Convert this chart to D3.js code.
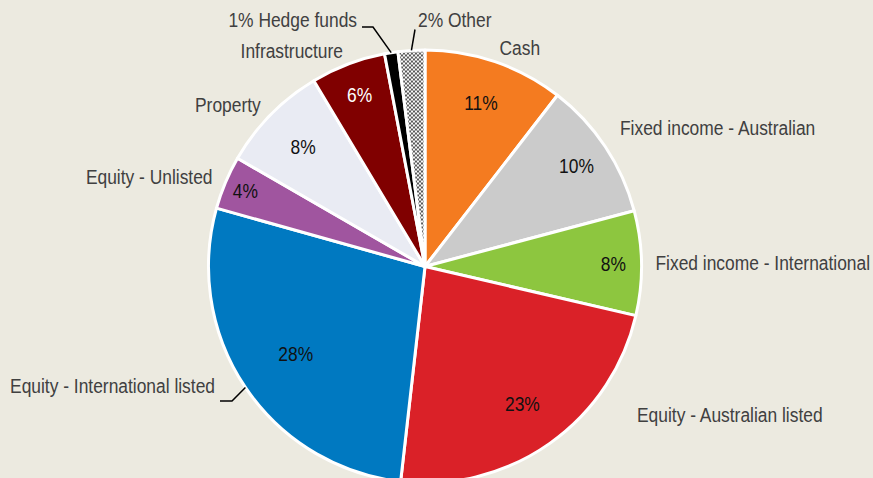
<!DOCTYPE html>
<html>
<head>
<meta charset="utf-8">
<script src="https://cdn.jsdelivr.net/npm/d3@7"></script>
<style>
  html, body { margin: 0; padding: 0; background: #ECEAE0; }
  svg { display: block; }
</style>
</head>
<body>
<script>
//Width and height
var w = 873;
var h = 478;

// asset allocation, % of portfolio (clockwise from 12 o'clock)
var categories = ["Cash", "Fixed income - Australian", "Fixed income - International",
    "Equity - Australian listed", "Equity - International listed", "Equity - Unlisted",
    "Property", "Infrastructure", "Hedge funds", "Other"];
var shares = [10.5, 10.4, 7.8, 23.2, 27.6, 4.0, 8.1, 5.6, 1.0, 2.0];
var colors = ["#F47B20", "#CBCBCB", "#8DC63F", "#DA2128", "#0079C1", "#A0559F",
    "#E9EBF3", "#800000", "#000000", "url(#dots)"];

var cx = 425, cy = 266.5, r = 216.5;
var squeeze = 0.87;   // fake a narrow font

// how far out the % sits, as a share of the radius
var pctRadius = { "Cash": 0.8, "Fixed income - Australian": 0.84, "Fixed income - International": 0.87,
    "Equity - Australian listed": 0.78, "Equity - International listed": 0.72, "Equity - Unlisted": 0.9,
    "Property": 0.79, "Infrastructure": 0.85 };

// labels that don't just sit radially outside the slice
var special = {
    "Fixed income - Australian": { text: [195, -138.5], anchor: "start" },
    "Equity - Australian listed": { text: [212, 148.5], anchor: "start" },
    "Equity - International listed": { text: [-210, 119.5], anchor: "end", leader: [[-193, 134.5], [-205, 134.5]] },
    "Hedge funds": { text: [-68, -246.5], anchor: "end", pct: true, leader: [[-52, -239.5], [-63, -239.5]] },
    "Other": { text: [-7, -246.5], anchor: "start", pct: true, leader: [[-10, -237]] }
};

var svg = d3.select("body")
    .append("svg")
    .attr("width", w)
    .attr("height", h);

// dotted fill for "Other"
var pat = svg.append("defs").append("pattern")
    .attr("id", "dots")
    .attr("patternUnits", "userSpaceOnUse")
    .attr("width", 4)
    .attr("height", 4);
pat.append("rect").attr("width", 4).attr("height", 4).attr("fill", "#FAFAFA");
pat.append("circle").attr("cx", 1).attr("cy", 1).attr("r", 1.1).attr("fill", "#444");
pat.append("circle").attr("cx", 3).attr("cy", 3).attr("r", 1.1).attr("fill", "#444");

var data = categories.map(function(c, i) {
    return { name: c, value: shares[i], color: colors[i] };
});

var pie = d3.pie()
    .sort(null)
    .value(d => d.value);

var arcs = pie(data);

var arc = d3.arc().innerRadius(0).outerRadius(r);
var outArc = d3.arc().innerRadius(r + 14).outerRadius(r + 14);
var edgeArc = d3.arc().innerRadius(r).outerRadius(r);

var g = svg.append("g")
    .attr("transform", "translate(" + cx + "," + cy + ")");

g.selectAll("path.slice")
    .data(arcs)
    .enter()
    .append("path")
    .attr("class", "slice")
    .attr("d", arc)
    .attr("fill", d => d.data.color)
    .attr("stroke", "#fff")
    .attr("stroke-width", 3)
    .attr("stroke-linejoin", "round");

var font = "'Liberation Sans', Arial, sans-serif";

function pct(d) {
    return Math.round(d.data.value) + "%";
}

function pctPos(d) {
    var k = pctRadius[d.data.name] || 0.8;
    return d3.arc().innerRadius(r * k).outerRadius(r * k).centroid(d);
}

// percentages inside slices
g.selectAll("text.pct")
    .data(arcs.filter(d => !(special[d.data.name] && special[d.data.name].pct)))
    .enter()
    .append("text")
    .attr("class", "pct")
    .attr("transform", d => "translate(" + pctPos(d) + ") scale(" + squeeze + ",1)")
    .attr("text-anchor", "middle")
    .attr("dy", "0.35em")
    .attr("font-family", font)
    .attr("font-size", "20px")
    .attr("fill", d => d.data.name == "Infrastructure" ? "#fff" : "#111")
    .text(pct);

// leader lines
g.selectAll("path.leader")
    .data(arcs.filter(d => special[d.data.name] && special[d.data.name].leader))
    .enter()
    .append("path")
    .attr("class", "leader")
    .attr("d", d => d3.line()([edgeArc.centroid(d)].concat(special[d.data.name].leader)))
    .attr("fill", "none")
    .attr("stroke", "#000")
    .attr("stroke-width", 1.5);

// category labels
g.selectAll("text.cat")
    .data(arcs)
    .enter()
    .append("text")
    .attr("class", "cat")
    .attr("transform", function(d) {
        var s = special[d.data.name];
        return "translate(" + (s ? s.text : outArc.centroid(d)) + ") scale(" + squeeze + ",1)";
    })
    .attr("text-anchor", function(d) {
        var s = special[d.data.name];
        if (s) return s.anchor;
        var a = (d.startAngle + d.endAngle) / 2;
        return a < Math.PI ? "start" : "end";
    })
    .attr("dy", "0.35em")
    .attr("font-family", font)
    .attr("font-size", "20px")
    .attr("fill", "#404040")
    .text(function(d) {
        var s = special[d.data.name];
        return (s && s.pct ? pct(d) + " " : "") + d.data.name;
    });
</script>
</body>
</html>
